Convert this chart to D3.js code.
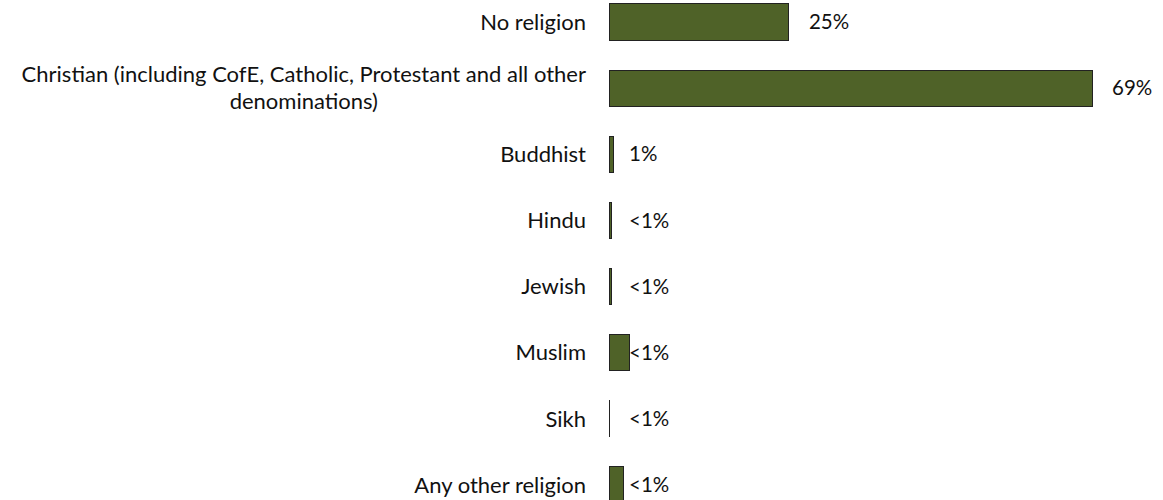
<!DOCTYPE html>
<html>
<head>
<meta charset="utf-8">
<script src="https://cdn.jsdelivr.net/npm/d3@7"></script>
<style>
  body { margin: 0; background: #fff; }
  svg { display: block; font-family: Lato, "Noto Sans", sans-serif; font-weight: 400; }
</style>
</head>
<body>
<div class="graphic"></div>
<script>
const width = 1163
const height = 500

// categories (label lines) and values
const categories = [
	['No religion'],
	['Christian (including CofE, Catholic, Protestant and all other', 'denominations)'],
	['Buddhist'],
	['Hindu'],
	['Jewish'],
	['Muslim'],
	['Sikh'],
	['Any other religion'],
]
const values = [25.7, 69, 0.6, 0.4, 0.3, 2.9, 0.05, 2.1]
const valueLabels = ['25%', '69%', '1%', '<1%', '<1%', '<1%', '<1%', '<1%']

const fill = '#4f6228'
const labelRight = 586

const data = categories.map((lines, i) => ({
	key: lines.join(' '),
	lines,
	value: values[i],
	label: valueLabels[i],
}))

const svg = d3.select('.graphic').append('svg')
	.attr('width', width)
	.attr('height', height)

const x = d3.scaleLinear()
	.domain([0, 100])
	.range([609, 1309])

const y = d3.scaleBand()
	.domain(data.map(d => d.key))
	.range([-11, 518])
	.paddingInner(0.45)
	.paddingOuter(0.225)

const rows = svg.append('g')
	.selectAll('g')
	.data(data)
	.join('g')
	.attr('transform', d => `translate(0,${y(d.key)})`)

rows.append('rect')
	.attr('x', x(0))
	.attr('y', 0)
	.attr('width', d => x(d.value) - x(0))
	.attr('height', y.bandwidth())
	.attr('fill', fill)
	.attr('stroke', '#222')
	.attr('stroke-width', 1)
	.attr('shape-rendering', 'crispEdges')

// value labels: big bars get it at the end, small ones at a fixed gap
rows.append('text')
	.attr('x', d => (d.value >= 5 ? x(d.value) : x(0)) + 20)
	.attr('y', y.bandwidth() / 2)
	.attr('dy', '0.35em')
	.attr('font-size', 20.5)
	.attr('fill', '#111')
	.text(d => d.label)

// category labels, right aligned block, lines centred within it
rows.each(function(d) {
	const g = d3.select(this)
	const t = g.append('text')
		.attr('font-size', 22)
		.attr('fill', '#111')
		.attr('text-anchor', 'middle')
	const n = d.lines.length
	const spans = d.lines.map((line, i) => t.append('tspan')
		.attr('y', y.bandwidth() / 2 + (i - (n - 1) / 2) * 27)
		.attr('dy', '0.35em')
		.text(line))
	const w = d3.max(spans, s => s.node().getComputedTextLength())
	spans.forEach(s => s.attr('x', labelRight - w / 2))
})
</script>
</body>
</html>
